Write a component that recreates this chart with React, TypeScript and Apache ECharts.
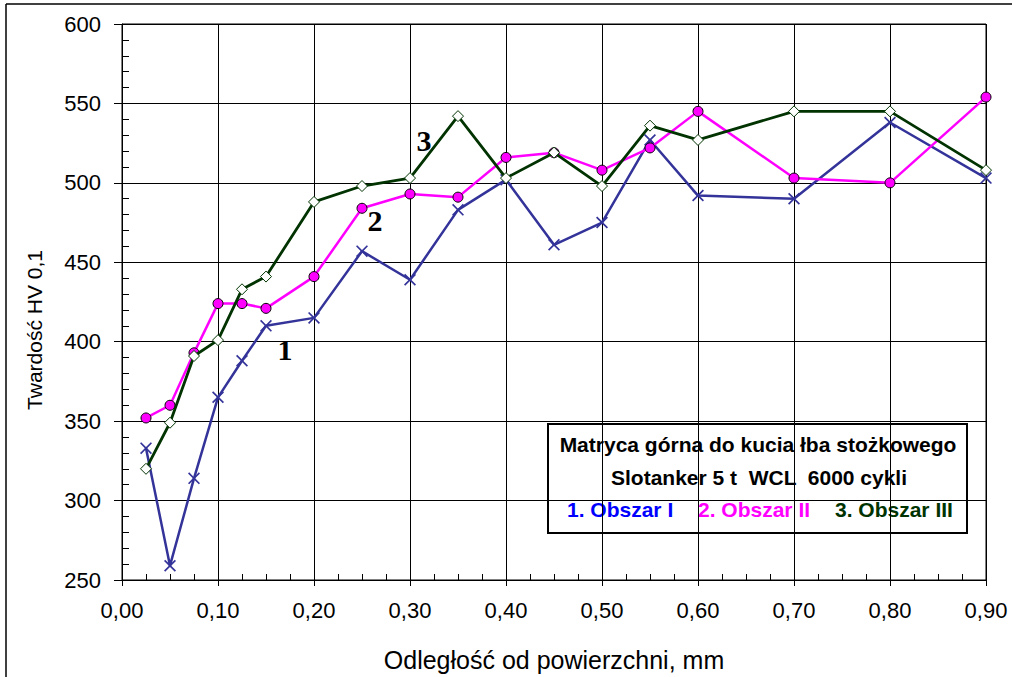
import React, { useEffect, useRef } from 'react';
import * as echarts from 'echarts';

const distances = [0.025, 0.05, 0.075, 0.1, 0.125, 0.15, 0.2, 0.25, 0.3, 0.35, 0.4, 0.45, 0.5, 0.55, 0.6, 0.7, 0.8, 0.9];
const obszar1 = [333, 259, 314, 365, 388, 410, 415, 457, 439, 483, 502, 461, 475, 527, 492, 490, 538, 503];
const obszar2 = [352, 360, 393, 424, 424, 421, 441, 484, 493, 491, 516, 519, 508, 522, 545, 503, 500, 554];
const obszar3 = [320, 349, 391, 401, 433, 441, 488, 498, 503, 542, 503, 519, 498, 536, 527, 545, 545, 508];

const xTitle = 'Odległość od powierzchni, mm';
const yTitle = 'Twardość HV 0,1';
const boxLine1 = 'Matryca górna do kucia łba stożkowego';
const boxLine2 = 'Slotanker 5 t  WCL  6000 cykli';
const seriesNames = ['1. Obszar I', '2. Obszar II', '3. Obszar III'];
const curveLabels = ['1', '2', '3'];

const SANS = '"Liberation Sans", Arial, sans-serif';
const SERIF = '"Liberation Serif", "Times New Roman", serif';

const crossPath = 'path://M0,1 L1,0 L5,4 L9,0 L10,1 L6,5 L10,9 L9,10 L5,6 L1,10 L0,9 L4,5 Z';

function pairs(vals: number[]) {
  return distances.map((d, i) => [d, vals[i]]);
}

export default function App() {
  const ref = useRef<HTMLDivElement>(null);
  useEffect(() => {
    if (!ref.current) return;
    const chart = echarts.init(ref.current, undefined, { renderer: 'svg' });
    const option: any = {
      animation: false,
      backgroundColor: '#ffffff',
      grid: { left: 122, right: 26, top: 24, bottom: 95, show: true, borderColor: '#000', borderWidth: 1, backgroundColor: 'transparent' },
      xAxis: [
        {
          type: 'value', min: 0, max: 0.9, interval: 0.1, position: 'bottom',
          axisLine: { show: true, onZero: false, lineStyle: { color: '#000', width: 1 } },
          axisTick: { show: true, inside: false, length: 6, lineStyle: { color: '#000' } },
          axisLabel: { color: '#000', fontSize: 22, fontFamily: SANS, margin: 19, formatter: (v: number) => v.toFixed(2).replace('.', ',') },
          splitLine: { show: true, lineStyle: { color: '#000', width: 1 } },
          name: xTitle, nameLocation: 'middle', nameGap: 67,
          nameTextStyle: { color: '#000', fontSize: 25, fontFamily: SANS },
        },
        {
          type: 'value', min: 0, max: 0.9, interval: 0.025, position: 'bottom',
          axisLine: { show: false, onZero: false },
          axisTick: { show: true, inside: true, length: 6, lineStyle: { color: '#000' } },
          axisLabel: { show: false },
          splitLine: { show: false },
        },
      ],
      yAxis: [
        {
          type: 'value', min: 250, max: 600, interval: 50, position: 'left',
          axisLine: { show: true, onZero: false, lineStyle: { color: '#000', width: 1 } },
          axisTick: { show: true, inside: false, length: 8, lineStyle: { color: '#000' } },
          axisLabel: { color: '#000', fontSize: 22, fontFamily: SANS, margin: 21 },
          splitLine: { show: true, lineStyle: { color: '#000', width: 1 } },
        },
        {
          type: 'value', min: 250, max: 600, interval: 10, position: 'left',
          axisLine: { show: false, onZero: false },
          axisTick: { show: true, inside: true, length: 7, lineStyle: { color: '#000' } },
          axisLabel: { show: false },
          splitLine: { show: false },
        },
      ],
      series: [
        {
          name: seriesNames[0], type: 'line', data: pairs(obszar1), xAxisIndex: 0, yAxisIndex: 0,
          symbol: crossPath, symbolSize: 12,
          lineStyle: { color: '#333399', width: 2.5 },
          itemStyle: { color: '#333399' }, z: 3,
        },
        {
          name: seriesNames[1], type: 'line', data: pairs(obszar2), xAxisIndex: 0, yAxisIndex: 0,
          symbol: 'circle', symbolSize: 10,
          lineStyle: { color: '#ff00ff', width: 2.5 },
          itemStyle: { color: '#ff00ff', borderColor: '#000', borderWidth: 1 }, z: 4,
        },
        {
          name: seriesNames[2], type: 'line', data: pairs(obszar3), xAxisIndex: 0, yAxisIndex: 0,
          symbol: 'diamond', symbolSize: 11,
          lineStyle: { color: '#003300', width: 2.8 },
          itemStyle: { color: '#ffffff', borderColor: '#003300', borderWidth: 1 }, z: 5,
        },
      ],
      graphic: [
        { type: 'line', shape: { x1: 6, y1: 4, x2: 1012, y2: 4 }, style: { stroke: '#000', lineWidth: 1.5 } },
        { type: 'line', shape: { x1: 6, y1: 4, x2: 6, y2: 677 }, style: { stroke: '#000', lineWidth: 1.5 } },
        {
          type: 'text', x: 34, y: 330, rotation: Math.PI / 2,
          style: { text: yTitle, fill: '#000', font: `21px ${SANS}`, align: 'center', verticalAlign: 'middle' },
        },
        { type: 'text', x: 285, y: 349, z: 10, style: { text: curveLabels[0], fill: '#000', font: `bold 30px ${SERIF}`, align: 'center', verticalAlign: 'middle' } },
        { type: 'text', x: 375, y: 220, z: 10, style: { text: curveLabels[1], fill: '#000', font: `bold 30px ${SERIF}`, align: 'center', verticalAlign: 'middle' } },
        { type: 'text', x: 424, y: 140, z: 10, style: { text: curveLabels[2], fill: '#000', font: `bold 30px ${SERIF}`, align: 'center', verticalAlign: 'middle' } },
        {
          type: 'group', z: 20,
          children: [
            { type: 'rect', shape: { x: 548, y: 424, width: 419, height: 109 }, style: { fill: '#fff', stroke: '#000', lineWidth: 2 } },
            { type: 'text', x: 758, y: 444, style: { text: boxLine1, fill: '#000', font: `bold 21px ${SANS}`, align: 'center', verticalAlign: 'middle' } },
            { type: 'text', x: 759, y: 477, style: { text: boxLine2, fill: '#000', font: `bold 21px ${SANS}`, align: 'center', verticalAlign: 'middle' } },
            { type: 'text', x: 567, y: 509, style: { text: seriesNames[0], fill: '#0000ff', font: `bold 21px ${SANS}`, align: 'left', verticalAlign: 'middle' } },
            { type: 'text', x: 698, y: 509, style: { text: seriesNames[1], fill: '#ff00ff', font: `bold 21px ${SANS}`, align: 'left', verticalAlign: 'middle' } },
            { type: 'text', x: 835, y: 509, style: { text: seriesNames[2], fill: '#003300', font: `bold 21px ${SANS}`, align: 'left', verticalAlign: 'middle' } },
          ],
        },
      ],
    };
    chart.setOption(option);
    return () => chart.dispose();
  }, []);
  return <div ref={ref} style={{ position: 'fixed', left: 0, top: 0, width: 1012, height: 677 }} />;
}
